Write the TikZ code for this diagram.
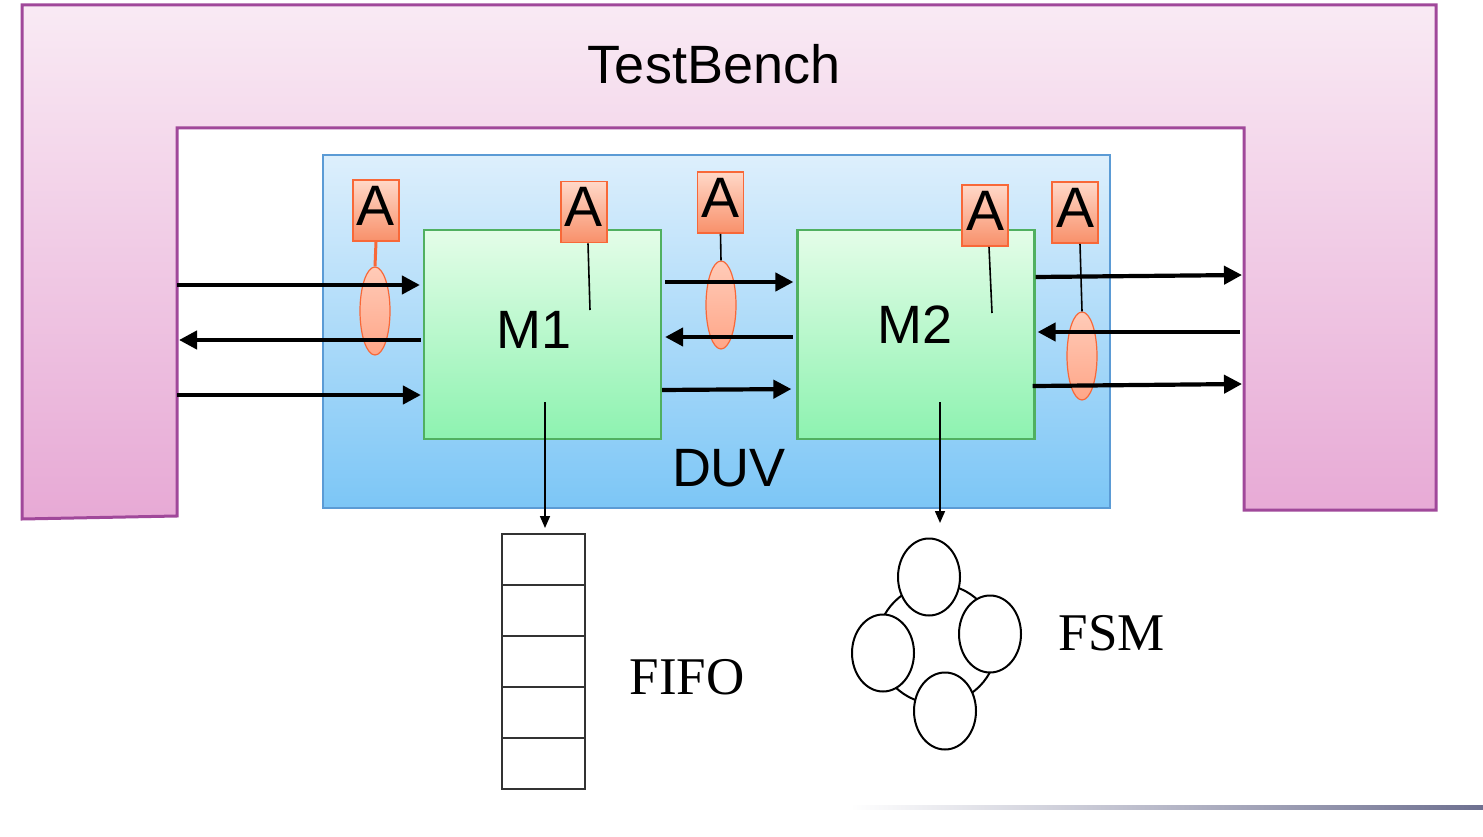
\documentclass[tikz,border=0pt]{standalone}
\usepackage{fontspec}
\setmainfont{Liberation Serif}
\setsansfont{Liberation Sans}
\usetikzlibrary{arrows.meta,shapes.geometric}
\definecolor{tbtop}{HTML}{F9EAF4}
\definecolor{tbbot}{HTML}{E7A9D5}
\definecolor{tbline}{HTML}{A0489A}
\definecolor{duvtop}{HTML}{DDEFFC}
\definecolor{duvbot}{HTML}{7CC6F6}
\definecolor{duvline}{HTML}{5B9BD5}
\definecolor{mtop}{HTML}{E4FDE8}
\definecolor{mbot}{HTML}{8DF2B0}
\definecolor{mline}{HTML}{50B060}
\definecolor{atop}{HTML}{FFD8C8}
\definecolor{abot}{HTML}{F8906A}
\definecolor{aline}{HTML}{F86838}
\definecolor{etop}{HTML}{FFCBB8}
\definecolor{ebot}{HTML}{FFA688}
\definecolor{rulegray}{HTML}{6E7090}
\begin{document}
\begin{tikzpicture}[x=1pt,y=-1pt,
  sanslabel/.style={font=\sffamily\fontsize{54}{60}\selectfont, inner sep=0},
  seriflabel/.style={font=\rmfamily\fontsize{53}{60}\selectfont, inner sep=0},
  modbox/.style={draw=mline, line width=2.2pt, top color=mtop, bottom color=mbot,
    minimum width=237pt, minimum height=209pt, inner sep=0},
  abox/.style={draw=aline, line width=1.8pt, top color=atop, bottom color=abot,
    minimum width=46pt, minimum height=61pt, inner sep=0,
    font=\sffamily\fontsize{57}{60}\selectfont, text height=42pt, text depth=12pt},
  probe/.style={draw=aline, line width=1.2pt, top color=etop, bottom color=ebot,
    ellipse, minimum width=30pt, minimum height=88pt, inner sep=0},
  bus/.style={line width=4.2pt, -{Triangle[length=18pt,width=18pt]}},
  busl/.style={line width=4.2pt, {Triangle[length=18pt,width=18pt]}-},
  tap/.style={line width=1.6pt, black},
  down/.style={line width=1.6pt, -{Triangle[length=12pt,width=10pt]}},
  cell/.style={draw=black!80, line width=1.3pt, minimum width=83pt, minimum height=51pt, inner sep=0, outer sep=0},
  state/.style={draw=black, line width=2pt, fill=white, ellipse, minimum width=62pt, minimum height=77pt, inner sep=0}
]
\useasboundingbox (0,0) rectangle (1483,837);

% TestBench frame
\draw[tbline, line width=3pt, top color=tbtop, bottom color=tbbot]
  (22,5) -- (1436,5) -- (1436,510) -- (1244,510) -- (1244,128) -- (177,128)
  -- (177,516) -- (22,519) -- cycle;
\node[sanslabel] (tb) at (714,64) {TestBench};

% DUV
\node[draw=duvline, line width=2.2pt, top color=duvtop, bottom color=duvbot,
  minimum width=787pt, minimum height=353pt, inner sep=0] (duv) at (716.5,331.5) {};
\node[sanslabel] (duvlabel) at (729,468) {DUV};

% modules
\node[modbox] (m1) at (542.5,334.5) {};
\node[modbox] (m2) at (916,334.5) {};
\node[sanslabel] (m1label) at (534,330) {M1};
\node[sanslabel] (m2label) at (915,325) {M2};

% assertion boxes
\node[abox] (a1) at (376,210.5) {A};
\node[abox] (a2) at (584,212) {A};
\node[abox] (a3) at (720.5,202.5) {A};
\node[abox] (a4) at (985,215.5) {A};
\node[abox] (a5) at (1075,212.5) {A};

% probes
\node[probe] (e1) at (375,311) {};
\node[probe] (e2) at (721,305) {};
\node[probe] (e3) at (1082,356) {};

% free ends
\coordinate (wl1) at (177,285);
\coordinate (wl2) at (177,340);
\coordinate (wl3) at (177,395);
\coordinate (wr1) at (1242,275);
\coordinate (wr2) at (1240,332);
\coordinate (wr3) at (1242,384);
\coordinate (a2end) at (590,310);
\coordinate (a4end) at (992,313);
\coordinate (m1d) at (545,402);
\coordinate (m2d) at (940,402);
\coordinate (m2tip) at (940,523);

% taps
\draw[aline, line width=3pt] (a1.south) -- (e1.north);
\draw[tap] ([xshift=4pt]a2.south) -- (a2end);
\draw[tap] (a3.south) -- (e2.north);
\draw[tap] ([xshift=4pt]a4.south) -- (a4end);

% buses left
\draw[bus, shorten >=3pt] (wl1) -- (wl1 -| m1.west);
\draw[busl, shorten <=2pt, shorten >=2pt] (wl2) -- (wl2 -| m1.west);
\draw[bus, shorten >=2pt] (wl3) -- (wl3 -| m1.west);
% buses middle
\draw[bus, shorten <=3pt, shorten >=3pt] (m1.east |- 0,282) -- (m2.west |- 0,282);
\draw[busl, shorten <=3pt, shorten >=3pt] (m1.east |- 0,337) -- (m2.west |- 0,337);
\draw[bus, shorten >=5pt] (m1.east |- 0,390) -- (m2.west |- 0,389);
% buses right
\draw[bus] (m2.east |- 0,277) -- (wr1);
\draw[busl, shorten <=2pt] (m2.east |- 0,332) -- (wr2);
\draw[bus, shorten <=-3pt] (m2.east |- 0,386) -- (wr3);
\draw[tap] ([xshift=5pt]a5.south) -- (e3.north);

% FIFO
\node[cell] (f1) at (543.5,559.5) {};
\node[cell, anchor=north] (f2) at (f1.south) {};
\node[cell, anchor=north] (f3) at (f2.south) {};
\node[cell, anchor=north] (f4) at (f3.south) {};
\node[cell, anchor=north] (f5) at (f4.south) {};
\node[seriflabel] (fifolabel) at (687,677) {FIFO};
\draw[down, shorten >=6pt] (m1d) -- (m1d |- f1.north);

% FSM
\node[draw=black, line width=2pt, circle, minimum size=120pt, inner sep=0] (ring) at (937,644) {};
\node[state] (s1) at (929,577) {};
\node[state] (s2) at (990,634) {};
\node[state] (s3) at (883,653) {};
\node[state] (s4) at (945,711) {};
\node[seriflabel] (fsmlabel) at (1112,633) {FSM};
\draw[down] (m2d) -- (m2tip);

% bottom rule
\shade[left color=white, right color=rulegray] (850,805) rectangle (1483,809);
\end{tikzpicture}
\end{document}
